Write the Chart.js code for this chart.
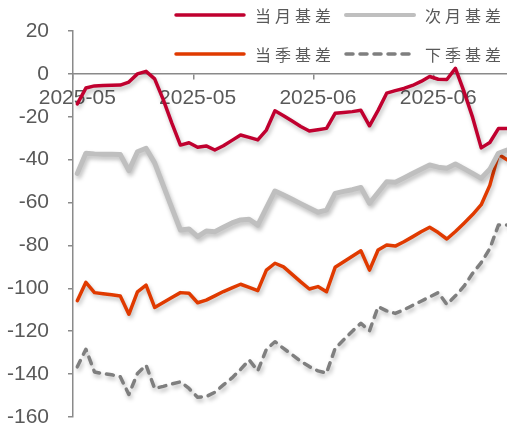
<!DOCTYPE html>
<html>
<head>
<meta charset="utf-8">
<script src="https://cdn.jsdelivr.net/npm/chart.js@4.4.1/dist/chart.umd.min.js"></script>
<style>
  html, body { margin: 0; padding: 0; background: #fff; overflow: hidden; }
  #wrap { width: 507px; height: 429px; overflow: hidden; position: relative; }
  canvas { display: block; }
</style>
</head>
<body>
<div id="wrap"><canvas id="chart" width="514" height="429"></canvas></div>
<script>
// Trading days on the x axis
const dates = [
  '2025-05-01','2025-05-02','2025-05-05','2025-05-06','2025-05-07','2025-05-08','2025-05-09',
  '2025-05-12','2025-05-13','2025-05-14','2025-05-15','2025-05-16','2025-05-19','2025-05-20',
  '2025-05-21','2025-05-22','2025-05-23','2025-05-26','2025-05-27','2025-05-28','2025-05-29',
  '2025-05-30','2025-06-02','2025-06-03','2025-06-04','2025-06-05','2025-06-06','2025-06-09',
  '2025-06-10','2025-06-11','2025-06-12','2025-06-13','2025-06-16','2025-06-17','2025-06-18',
  '2025-06-19','2025-06-20','2025-06-23','2025-06-24','2025-06-25','2025-06-26','2025-06-27',
  '2025-06-30','2025-07-01','2025-07-02','2025-07-03','2025-07-04','2025-07-07','2025-07-08',
  '2025-07-09','2025-07-10'
];
// Positions (in days) that carry a date label
const labelledDays = [0, 14, 28, 42];

// Y axis range
const yMin = -160;
const yMax = 20;
const yStep = 20;

const seriesNames = ['当月基差', '次月基差', '当季基差', '下季基差'];

// Basis series
const currentMonth = [
  -14, -6.6, -5.6, -5.4, -5.3, -5.2, -3.8, 0, 1.2, -2.3,
  -12, -23, -33.2, -32.1, -34.2, -33.6, -35.5, -33.5, -31, -28.5,
  -29.6, -30.8, -26.2, -17.2, -19.5, -22, -24.5, -26.6, -26, -25.4,
  -18.4, -18, -17.6, -17, -24.2, -17, -9, -7.8, -6.8, -5.4,
  -3.5, -1.2, -2.5, -2.6, 2.6, -8.3, -20.3, -34.5, -32, -25.5,
  -25.5
];
const nextMonth = [
  -46.4, -37, -37.3, -37.5, -37.5, -37.6, -45.1, -36.3, -34.7, -41.5,
  -52, -62.5, -72.8, -72.3, -75.9, -73.3, -73.6, -71.5, -69.5, -68.1,
  -67.8, -70.5, -62.5, -54.6, -56.5, -58.5, -60.5, -62.5, -64.5, -63.5,
  -55.7, -54.8, -54, -53, -60.3, -55.3, -50.3, -50.5, -48.5, -46.5,
  -44.5, -42.5, -43.5, -44, -42, -44.2, -46.4, -48.7, -44.5, -37,
  -35.5
];
const currentQuarter = [
  -105.8, -97.2, -102, -102.5, -103, -103.6, -112.1, -101.6, -98.5, -108.9,
  -106.6, -104.3, -102, -102.3, -106.7, -105.5, -103.5, -101.5, -99.8, -98.1,
  -99.6, -101.1, -91.5, -88.3, -90, -93.5, -97, -100.3, -99.2, -101.6,
  -90.2, -87.6, -85, -82.5, -91.5, -82.1, -79.8, -80.3, -78.3, -76,
  -73.6, -71.5, -74, -77, -73.5, -69.6, -65.6, -61, -52, -37.5,
  -40
];
const nextQuarter = [
  -136.6, -128.4, -139, -139.8, -140.3, -141.2, -149.5, -139.7, -135.8, -146.7,
  -145.7, -144.6, -143.6, -146.7, -150.8, -150.5, -148.5, -145, -141.8, -137.8,
  -133.4, -138.5, -128.5, -124.9, -128, -131, -134, -136.5, -138.5, -139.5,
  -128, -124, -120, -116.3, -119.8, -108.6, -110.5, -111.7, -110, -108,
  -106, -104, -102, -107.5, -103.5, -99, -93, -88, -81.5, -70.5,
  -70.5
];

const axisGrey = '#8a8a8a';
const textGrey = '#595959';

// Soft drop shadow under each series line
const lineShadow = {
  id: 'lineShadow',
  beforeDatasetDraw(chart, args, opts) {
    const ctx = chart.ctx;
    ctx.save();
    ctx.shadowColor = opts.color;
    ctx.shadowBlur = opts.blur;
    ctx.shadowOffsetX = opts.dx;
    ctx.shadowOffsetY = opts.dy;
  },
  afterDatasetDraw(chart) {
    chart.ctx.restore();
  }
};

// Two-by-two legend laid over the top right of the plot
const legendGrid = {
  id: 'legendGrid',
  afterDatasetsDraw(chart, args, opts) {
    const ctx = chart.ctx;
    chart.data.datasets.forEach((ds, i) => {
      const x = opts.cols[i % 2];
      const y = opts.rows[Math.floor(i / 2)];
      ctx.save();
      ctx.strokeStyle = ds.borderColor;
      ctx.lineWidth = ds.borderWidth > 4 ? 4 : ds.borderWidth;
      ctx.lineCap = 'round';
      ctx.setLineDash(ds.borderDash || []);
      ctx.beginPath();
      ctx.moveTo(x, y);
      ctx.lineTo(x + opts.lineLength, y);
      ctx.stroke();
      ctx.setLineDash([]);
      ctx.font = opts.font;
      if ('letterSpacing' in ctx) ctx.letterSpacing = opts.letterSpacing;
      ctx.fillStyle = opts.color;
      ctx.textBaseline = 'middle';
      ctx.textAlign = 'left';
      ctx.fillText(ds.label, x + opts.lineLength + opts.gap, y + 1);
      ctx.restore();
    });
  }
};

const lineStyle = { pointRadius: 0, tension: 0, borderJoinStyle: 'round', borderCapStyle: 'round', fill: false };

new Chart(document.getElementById('chart'), {
  type: 'line',
  data: {
    labels: dates,
    datasets: [
      { label: seriesNames[0], data: currentMonth, borderColor: '#C0002F', borderWidth: 3.5, ...lineStyle },
      { label: seriesNames[1], data: nextMonth, borderColor: '#BFBFBF', borderWidth: 5, ...lineStyle },
      { label: seriesNames[2], data: currentQuarter, borderColor: '#E03A00', borderWidth: 3.5, ...lineStyle },
      { label: seriesNames[3], data: nextQuarter, borderColor: '#7F7F7F', borderWidth: 3.5, borderDash: [7, 7], ...lineStyle }
    ]
  },
  options: {
    responsive: false,
    animation: false,
    devicePixelRatio: 1,
    layout: { padding: { top: 31, left: 0, right: 0, bottom: 12 } },
    plugins: {
      legend: { display: false },
      tooltip: { enabled: false },
      lineShadow: { color: 'rgba(0,0,0,0.26)', blur: 4, dx: 1.5, dy: 3 },
      legendGrid: {
        cols: [176, 346], rows: [15, 54], lineLength: 68, gap: 11,
        font: '16px "Noto Sans CJK SC"', letterSpacing: '4px', color: textGrey
      }
    },
    scales: {
      x: {
        type: 'category',
        position: { y: 0 },
        offset: true,
        afterFit: (scale) => { scale.height = 0; },
        grid: {
          offset: true,
          drawOnChartArea: false,
          drawTicks: true,
          tickLength: 5,
          lineWidth: 1.5,
          tickColor: (c) => labelledDays.includes(c.index) ? axisGrey : 'rgba(0,0,0,0)'
        },
        border: { display: true, color: axisGrey, width: 1.5 },
        ticks: {
          autoSkip: false,
          maxRotation: 0,
          minRotation: 0,
          padding: 7,
          color: textGrey,
          font: { family: '"Liberation Sans", Arial, sans-serif', size: 21 },
          callback: function (value, index) {
            return labelledDays.includes(index) ? this.getLabelForValue(value).slice(0, 7) : '';
          }
        }
      },
      y: {
        min: yMin,
        max: yMax,
        afterFit: (scale) => {
          scale.width = 73;
          scale.paddingTop = 0;
          scale.paddingBottom = 0;
        },
        grid: { drawOnChartArea: false, drawTicks: true, tickLength: 5, color: axisGrey, lineWidth: 1.5 },
        border: { display: true, color: axisGrey, width: 1.5 },
        ticks: {
          stepSize: yStep,
          padding: 19,
          color: textGrey,
          font: { family: '"Liberation Sans", Arial, sans-serif', size: 21 }
        }
      }
    }
  },
  plugins: [lineShadow, legendGrid]
});
</script>
</body>
</html>
